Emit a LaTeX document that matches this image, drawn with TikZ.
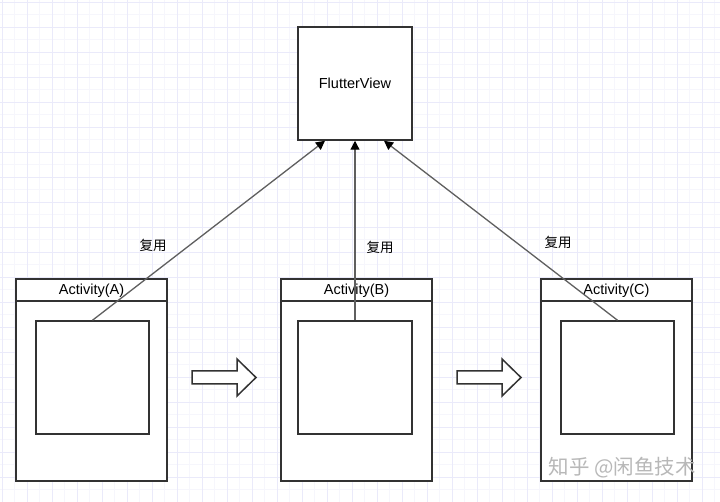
\documentclass[tikz,border=0pt]{standalone}
\usepackage{fontspec}
\setmainfont{Liberation Sans}
\newfontfamily\cjk{Noto Sans CJK SC}
\usetikzlibrary{arrows.meta}

\definecolor{gridline}{RGB}{234,234,250}
\definecolor{gridminor}{RGB}{246,246,252}
\definecolor{boxline}{RGB}{50,50,50}
\definecolor{linkline}{RGB}{95,95,95}

\begin{document}
\begin{tikzpicture}[
            x = 1pt, y = -1pt, % pixel units
            font = \fontsize{14.5}{16}\selectfont
        ]

        \tikzstyle{frame}=[
            draw = boxline,
            line width = 1.5pt,
            fill = white,
            inner sep = 0pt
        ]
        \tikzstyle{link}=[
            -{Triangle[width=9pt, length=9pt, black]}, % arrow head style
            draw = linkline,
            line width = 1.3pt
        ]
        \tikzstyle{reuse}=[
            font = \cjk\fontsize{13.5}{15}\selectfont
        ]
        \tikzstyle{next}=[
            draw = boxline,
            line width = 1.5pt,
            fill = white,
            line join = miter
        ]

        \useasboundingbox (0,0) rectangle (720,502);
        \fill[white] (0,0) rectangle (720,502);
        \draw[gridminor, line width=0.6pt, step=12.5pt, shift={(-10.5,-10.5)}] (0,0) grid (740,520);
        \draw[gridline, line width=0.8pt, step=25pt, shift={(2,2)}] (-25,-25) grid (725,525);

        \node[frame, minimum width=114pt, minimum height=113pt] (F) at (355,83.5) {FlutterView};
        \coordinate (FA) at ([xshift=-30pt]F.south);
        \coordinate (FB) at (F.south);
        \coordinate (FC) at ([xshift=29pt]F.south);

        % activities
        \node[frame, minimum width=151pt, minimum height=202pt] (A) at (91.5,380) {};
        \node[frame, minimum width=151pt, minimum height=202pt] (B) at (356.5,380) {};
        \node[frame, minimum width=151pt, minimum height=202pt] (C) at (616.5,380) {};
        \foreach \n in {A, B, C}
            \draw[boxline, line width=1.5pt] ([yshift=-23pt]\n.north west) -- ([yshift=-23pt]\n.north east);
        \node (AT) at (91.5,290.5) {Activity(A)};
        \node (BT) at (356.5,290.5) {Activity(B)};
        \node (CT) at (616.5,290.5) {Activity(C)};

        \node[frame, minimum width=113pt, minimum height=113pt] (A1) at (92.5,377.5) {};
        \node[frame, minimum width=114pt, minimum height=113pt] (B1) at (355,377.5) {};
        \node[frame, minimum width=113pt, minimum height=113pt] (C1) at (617.5,377.5) {};

        % hollow arrows between activities
        \foreach \s in {0, 265}
            \draw[next, shift={(\s,0)}] (192,371) -- (237,371) -- (237,359) -- (256,377.5)
                -- (237,396) -- (237,384) -- (192,384) -- cycle;

        \draw[link] (A1.north) -- (FA);
        \draw[link] (B1.north) -- (FB);
        \draw[link] (C1.north) -- (FC);

        \node[reuse] (RA) at (153,245) {复用};
        \node[reuse] (RB) at (380,247) {复用};
        \node[reuse] (RC) at (558,242) {复用};

        \node[text=black!28, font=\cjk\fontsize{20.5}{22}\selectfont, anchor=west] (W) at (545,468) {知乎 @闲鱼技术};
    \end{tikzpicture}
\end{document}
